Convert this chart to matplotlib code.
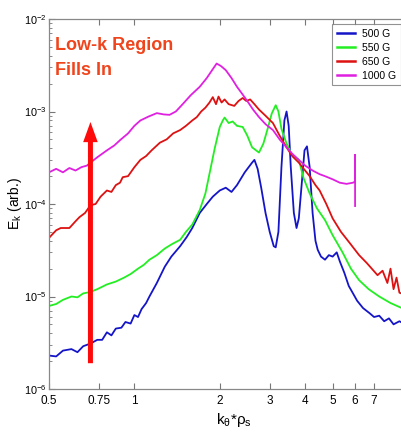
import matplotlib
matplotlib.use("Agg")
import matplotlib.pyplot as plt
from matplotlib.ticker import FixedLocator, FixedFormatter, LogLocator, NullFormatter, NullLocator

plt.rcParams['font.family'] = ['Liberation Sans', 'DejaVu Sans']
plt.rcParams['mathtext.fontset'] = 'custom'
plt.rcParams['mathtext.rm'] = 'Liberation Sans'
plt.rcParams['mathtext.it'] = 'Liberation Sans:italic'

# ---- data ----
blue_x = [0.50, 0.53, 0.56, 0.60, 0.63, 0.66, 0.70, 0.74, 0.77, 0.80, 0.83, 0.86, 0.90, 0.93, 0.97,
          1.00, 1.03, 1.06, 1.10, 1.13, 1.20, 1.28, 1.35, 1.45, 1.53, 1.60, 1.70, 1.80, 1.89, 2.00,
          2.10, 2.20, 2.30, 2.45, 2.60, 2.65, 2.72, 2.80, 2.90, 3.00, 3.10, 3.15, 3.22, 3.30, 3.38,
          3.44, 3.50, 3.56, 3.65, 3.73, 3.80, 3.90, 3.98, 4.06, 4.15, 4.25, 4.35, 4.43, 4.55, 4.70,
          4.85, 5.00, 5.17, 5.30, 5.50, 5.70, 5.88, 6.10, 6.40, 6.75, 7.00, 7.30, 7.60, 7.90, 8.20,
          8.60, 9.00, 9.50, 10.0]
blue_y = [2.3e-6, 2.25e-6, 2.6e-6, 2.7e-6, 2.5e-6, 2.9e-6, 3.1e-6, 3.4e-6, 3.4e-6, 4.1e-6, 3.8e-6,
          4.5e-6, 4.6e-6, 5.3e-6, 5.1e-6, 6.3e-6, 6.0e-6, 7.3e-6, 8.5e-6, 1.0e-5, 1.4e-5, 2.1e-5,
          2.7e-5, 3.5e-5, 4.4e-5, 5.5e-5, 8.0e-5, 1.0e-4, 1.2e-4, 1.4e-4, 1.5e-4, 1.35e-4, 1.6e-4,
          2.2e-4, 2.8e-4, 3.0e-4, 2.4e-4, 1.5e-4, 8.0e-5, 5.0e-5, 3.5e-5, 3.4e-5, 5.0e-5, 2.5e-4,
          8.0e-4, 1.0e-3, 7.0e-4, 2.5e-4, 8.0e-5, 5.5e-5, 7.0e-5, 1.8e-4, 3.8e-4, 4.2e-4, 2.5e-4,
          8.0e-5, 4.0e-5, 3.2e-5, 2.7e-5, 2.5e-5, 2.8e-5, 2.7e-5, 3.0e-5, 2.4e-5, 1.8e-5, 1.3e-5,
          1.1e-5, 9.0e-6, 7.5e-6, 6.6e-6, 6.0e-6, 6.2e-6, 5.4e-6, 5.8e-6, 5.0e-6, 5.4e-6, 5.0e-6,
          5.3e-6, 5.0e-6]

green_x = [0.50, 0.53, 0.56, 0.60, 0.63, 0.66, 0.70, 0.74, 0.80, 0.86, 0.92, 0.97, 1.03, 1.08, 1.13,
           1.20, 1.28, 1.36, 1.45, 1.52, 1.60, 1.70, 1.78, 1.85, 1.92, 2.00, 2.05, 2.08, 2.15, 2.22,
           2.30, 2.41, 2.50, 2.60, 2.75, 2.85, 2.95, 3.05, 3.15, 3.22, 3.30, 3.44, 3.60, 3.80, 3.95,
           4.15, 4.40, 4.70, 5.00, 5.42, 5.80, 6.20, 6.70, 7.30, 8.00, 8.60, 9.30, 10.0]
green_y = [7.9e-6, 8.3e-6, 9.2e-6, 1.0e-5, 9.8e-6, 1.08e-5, 1.12e-5, 1.2e-5, 1.35e-5, 1.45e-5,
           1.6e-5, 1.75e-5, 2.0e-5, 2.2e-5, 2.5e-5, 2.8e-5, 3.3e-5, 3.7e-5, 4.1e-5, 5.0e-5, 6.0e-5,
           8.6e-5, 1.3e-4, 2.3e-4, 4.0e-4, 6.8e-4, 8.0e-4, 8.6e-4, 7.5e-4, 7.8e-4, 7.0e-4, 6.8e-4,
           5.5e-4, 4.1e-4, 3.6e-4, 4.5e-4, 6.5e-4, 9.5e-4, 1.17e-3, 1.0e-3, 6.5e-4, 4.5e-4, 3.4e-4,
           3.0e-4, 1.9e-4, 1.3e-4, 9.0e-5, 6.7e-5, 4.6e-5, 3.0e-5, 2.0e-5, 1.5e-5, 1.2e-5, 1.0e-5,
           8.5e-6, 7.7e-6, 7.0e-6, 6.6e-6]

red_x = [0.50, 0.53, 0.55, 0.59, 0.62, 0.64, 0.67, 0.70, 0.73, 0.76, 0.80, 0.83, 0.86, 0.89, 0.91,
         0.95, 1.00, 1.05, 1.10, 1.15, 1.23, 1.30, 1.37, 1.45, 1.52, 1.60, 1.66, 1.72, 1.78, 1.84,
         1.89, 1.94, 1.98, 2.03, 2.08, 2.15, 2.25, 2.33, 2.41, 2.48, 2.56, 2.65, 2.75, 2.90, 3.08,
         3.25, 3.44, 3.60, 3.80, 4.00, 4.15, 4.35, 4.50, 4.75, 5.00, 5.35, 5.74, 6.20, 6.60, 7.20,
         7.50, 7.80, 8.00, 8.20, 8.40, 8.60, 9.30, 10.0]
red_y = [4.3e-5, 5.2e-5, 5.5e-5, 5.5e-5, 6.5e-5, 7.2e-5, 8.0e-5, 9.7e-5, 1.0e-4, 1.2e-4, 1.4e-4,
         1.35e-4, 1.6e-4, 1.7e-4, 1.95e-4, 2.0e-4, 2.5e-4, 3.0e-4, 3.3e-4, 3.8e-4, 4.6e-4, 5.0e-4,
         5.8e-4, 6.3e-4, 7.0e-4, 8.0e-4, 8.7e-4, 1.0e-3, 1.1e-3, 1.25e-3, 1.43e-3, 1.2e-3, 1.45e-3,
         1.25e-3, 1.35e-3, 1.2e-3, 1.15e-3, 1.3e-3, 1.4e-3, 1.3e-3, 1.35e-3, 1.2e-3, 1.05e-3,
         9.0e-4, 7.5e-4, 5.5e-4, 4.1e-4, 3.3e-4, 2.8e-4, 2.3e-4, 2.0e-4, 1.6e-4, 1.4e-4, 1.0e-4,
         7.0e-5, 5.0e-5, 3.8e-5, 2.8e-5, 2.3e-5, 1.7e-5, 1.9e-5, 1.4e-5, 2.0e-5, 1.2e-5, 1.6e-5,
         1.1e-5, 1.0e-5, 9.0e-6]

mag_x = [0.50, 0.53, 0.56, 0.59, 0.62, 0.65, 0.68, 0.70, 0.74, 0.80, 0.85, 0.89, 0.95, 1.00, 1.05,
         1.12, 1.20, 1.27, 1.33, 1.40, 1.48, 1.58, 1.70, 1.80, 1.88, 1.95, 2.02, 2.10, 2.20, 2.30,
         2.40, 2.50, 2.62, 2.75, 2.90, 3.08, 3.25, 3.44, 3.60, 3.80, 4.00, 4.25, 4.50, 4.70, 5.00,
         5.30, 5.60, 5.90, 6.00, 6.00, 6.00]
mag_y = [2.2e-4, 2.4e-4, 2.2e-4, 2.45e-4, 2.3e-4, 2.5e-4, 2.6e-4, 2.8e-4, 3.2e-4, 3.8e-4, 4.3e-4,
         4.9e-4, 5.8e-4, 7.0e-4, 8.0e-4, 8.8e-4, 9.6e-4, 9.3e-4, 9.2e-4, 1.0e-3, 1.2e-3, 1.5e-3,
         1.85e-3, 2.3e-3, 2.8e-3, 3.3e-3, 3.1e-3, 2.8e-3, 2.3e-3, 1.85e-3, 1.55e-3, 1.3e-3, 1.05e-3,
         8.7e-4, 7.3e-4, 6.3e-4, 5.0e-4, 4.1e-4, 3.5e-4, 3.0e-4, 2.6e-4, 2.3e-4, 2.1e-4, 2.0e-4,
         1.85e-4, 1.7e-4, 1.65e-4, 1.7e-4, 1.75e-4, 3.4e-4, 9.5e-5]

series_labels = ['500 G', '550 G', '650 G', '1000 G']
series_colors = ['#1515c8', '#22ee22', '#dd1111', '#e020e0']

xtick_vals = [0.5, 0.75, 1, 2, 3, 4, 5, 6, 7]
xtick_labels = ['0.5', '0.75', '1', '2', '3', '4', '5', '6', '7']
ytick_vals = [1e-6, 1e-5, 1e-4, 1e-3, 1e-2]
ytick_labels = [r'$10^{-6}$', r'$10^{-5}$', r'$10^{-4}$', r'$10^{-3}$', r'$10^{-2}$']

arrow_x = 0.70
arrow_y0 = 1.9e-6
arrow_y1 = 7.7e-4

# ---- figure ----
W, H = 402, 434
fig = plt.figure(figsize=(W / 100, H / 100), dpi=100)
ax = fig.add_axes([49 / W, 1 - 389 / H, (418 - 49) / W, (389 - 19) / H])
ax.set_xscale('log')
ax.set_yscale('log')
ax.set_xlim(0.5, 10)
ax.set_ylim(1e-6, 1e-2)

lw = 1.3
lines = []
for xs, ys, c, lab in zip([blue_x, green_x, red_x, mag_x], [blue_y, green_y, red_y, mag_y],
                          series_colors, series_labels):
    ln, = ax.plot(xs, ys, color=c, lw=lw, label=lab)
    lines.append(ln)

# arrow
ax.annotate('', xy=(arrow_x, arrow_y1), xytext=(arrow_x, arrow_y0),
            arrowprops=dict(width=3.6, headwidth=10.5, headlength=14.5, facecolor='#ff0a0a',
                            edgecolor='none', shrink=0.0))

fig.text(55 / W, 1 - 37 / H, 'Low-k Region\nFills In', color='#f0441c', fontsize=13.0,
         fontweight='bold', va='top', ha='left', linespacing=1.6)

ax.xaxis.set_major_locator(FixedLocator(xtick_vals))
ax.xaxis.set_major_formatter(FixedFormatter(xtick_labels))
ax.xaxis.set_minor_locator(NullLocator())
ax.yaxis.set_major_locator(FixedLocator(ytick_vals))
ax.yaxis.set_major_formatter(FixedFormatter(ytick_labels))
ax.yaxis.set_minor_locator(LogLocator(base=10, subs=range(2, 10)))
ax.yaxis.set_minor_formatter(NullFormatter())
ax.tick_params(which='both', direction='in', top=True, right=True, color='#777777')
ax.tick_params(axis='x', pad=4, labelsize=8.5)
ax.tick_params(axis='y', pad=1.5, labelsize=7.8)
ax.tick_params(which='major', length=4)
ax.tick_params(which='minor', length=2)
for s in ax.spines.values():
    s.set_color('#888888')
    s.set_linewidth(0.9)

ax.set_xlabel(r'$\mathrm{k_{\theta}}$*$\mathrm{\rho_s}$', fontsize=11, labelpad=3)
ax.set_ylabel(r'$\mathrm{E_k}$ (arb.)', fontsize=10)
ax.yaxis.set_label_coords(-0.068, 0.5)

leg = ax.legend(handles=lines, loc='upper right', bbox_to_anchor=(401 / W, 1 - 24 / H),
                bbox_transform=fig.transFigure, fontsize=7.5, frameon=True, fancybox=False,
                handlelength=1.7, handletextpad=0.7, borderpad=0.45, labelspacing=0.38,
                borderaxespad=0)
leg.get_frame().set_edgecolor('#777777')
leg.get_frame().set_linewidth(0.8)
for h in leg.get_lines():
    h.set_linewidth(1.8)

fig.savefig('out.png', dpi=100)
